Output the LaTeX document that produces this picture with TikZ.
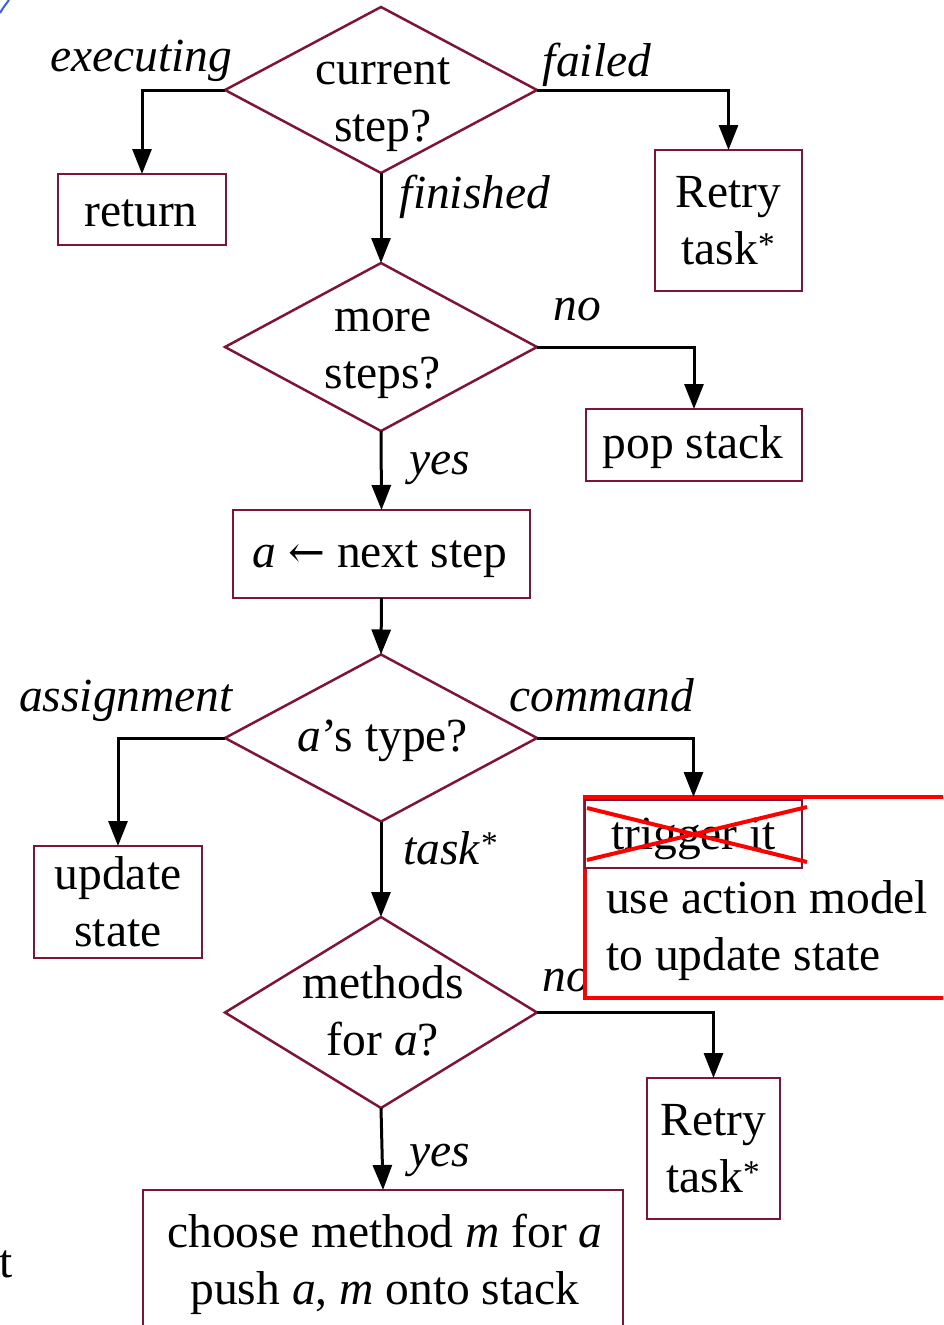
\documentclass[tikz,border=0pt]{standalone}
\usepackage{fontspec}
\setmainfont{Liberation Serif}
\newfontfamily\arrowfont{DejaVu Serif}
\usetikzlibrary{arrows.meta,shapes.geometric}
\definecolor{maroon}{HTML}{7E1535}
\definecolor{cornerblue}{HTML}{3A5FE0}
\tikzset{
  x=1pt, y=1pt,
  txt/.style={font=\fontsize{47.5pt}{57pt}\selectfont, inner sep=0pt, align=center},
  lbl/.style={txt, font=\fontsize{47.5pt}{57pt}\selectfont\itshape, anchor=base},
  frame/.style={rectangle, draw=maroon, line width=2.5pt, fill=white, outer sep=0pt, inner sep=0pt},
  box/.style={frame, font=\fontsize{47.5pt}{57pt}\selectfont, align=center},
  dia/.style={diamond, draw=maroon, line width=2.5pt, fill=white, outer sep=0pt,
              inner sep=0pt, minimum width=312pt},
  arr/.style={draw=black, line width=3pt, -{Triangle[length=25pt,width=19pt]}},
}
\begin{document}
\begin{tikzpicture}
\useasboundingbox (0,0) rectangle (943,-1325);
\clip (0,0) rectangle (943,-1325);

% decision diamonds
\node[dia, minimum height=166pt] (d1) at (381,-90) {};
\node[txt] (d1t) at (383,-105) {current\\step?};
\node[dia, minimum height=168pt] (d2) at (381,-347) {};
\node[txt] (d2t) at (383,-354) {more\\steps?};
\node[dia, minimum height=167pt] (d3) at (381,-738) {};
\node[txt] (d3t) at (383,-741) {\textit{a}’s type?};
\node[dia, minimum height=191pt] (d4) at (381,-1012.5) {};
\node[txt] (d4t) at (383,-1011) {methods\\for \textit{a}?};

% action boxes
\node[frame, minimum width=168pt, minimum height=71pt] (ret) at (142,-209.5) {};
\node[txt] (rett) at (141,-213.5) {return};
\node[box, minimum width=147pt, minimum height=141pt] (retry1) at (728.5,-220.5) {Retry\\task\textsuperscript{*}};
\node[frame, minimum width=216pt, minimum height=72pt] (pop) at (694,-445) {};
\node[txt] (popt) at (693,-447) {pop stack};
\node[frame, minimum width=297pt, minimum height=88pt] (next) at (381.5,-554) {};
\node[txt] (nextt) at (380,-559) {\textit{a} {\arrowfont\fontsize{44pt}{50pt}\selectfont ←} next step};
\node[box, minimum width=168pt, minimum height=112pt] (upd) at (118,-902) {update\\state};
\node[box, minimum width=133pt, minimum height=141pt] (retry2) at (713.5,-1148.5) {Retry\\task\textsuperscript{*}};
\node[frame, minimum width=480pt, minimum height=144pt] (choose) at (383,-1262) {};
\node[txt] (chooset) at (385,-1264) {choose method \textit{m} for \textit{a}\\push \textit{a}, \textit{m} onto stack};

% branch labels
\node[lbl] (lexec) at (141,-71) {executing};
\node[lbl] (lfail) at (597,-76) {failed};
\node[lbl] (lfin) at (475,-208) {finished};
\node[lbl] (lno1) at (577,-320) {no};
\node[lbl] (lyes1) at (440,-474) {yes};
\node[lbl] (lasg) at (126,-711) {assignment};
\node[lbl] (lcmd) at (602,-711) {command};
\node[lbl] (ltask) at (450,-864) {task\textsuperscript{*}};
\node[lbl] (lno2) at (566,-991) {no};
\node[lbl] (lyes2) at (440,-1166) {yes};

% revised command branch, drawn over the old one
\node[rectangle, draw=red, line width=4pt, fill=white, outer sep=0pt,
      minimum width=375pt, minimum height=201pt] (cmdbox) at (772.5,-897.5) {};
\node[frame, minimum width=217pt, minimum height=68pt] (trig) at (693.5,-834) {};
\node[txt] (trigt) at (693.5,-839) {trigger it};
\draw[red, line width=4pt] (587,-808) -- (807,-862);
\draw[red, line width=4pt] (587,-860) -- (807,-807);
\node[txt, anchor=west, align=left] (upmodel) at (606,-931) {use action model\\to update state};

% connectors
\draw[arr] (d1.west) -| (ret.north);
\draw[arr] (d1.east) -| (retry1.north);
\draw[arr] (d1.south) -- (d2.north);
\draw[arr] (d2.east) -| (pop.north);
\draw[arr] (d2.south) -- (next.north);
\draw[arr] (next.south) -- (d3.north);
\draw[arr] (d3.west) -| (upd.north);
\draw[arr] (d3.east) -| (trig.north |- cmdbox.north);
\draw[arr] (d3.south) -- (d4.north);
\draw[arr] (d4.east) -| (retry2.north);
\draw[arr] (d4.south) -- (choose.north);

% edge fragments
\node[txt, anchor=base west] (tfrag) at (-1,-1277) {t};
\draw[cornerblue, line width=2pt] (0,-13) .. controls (3,-8) .. (9,0);
\end{tikzpicture}
\end{document}
